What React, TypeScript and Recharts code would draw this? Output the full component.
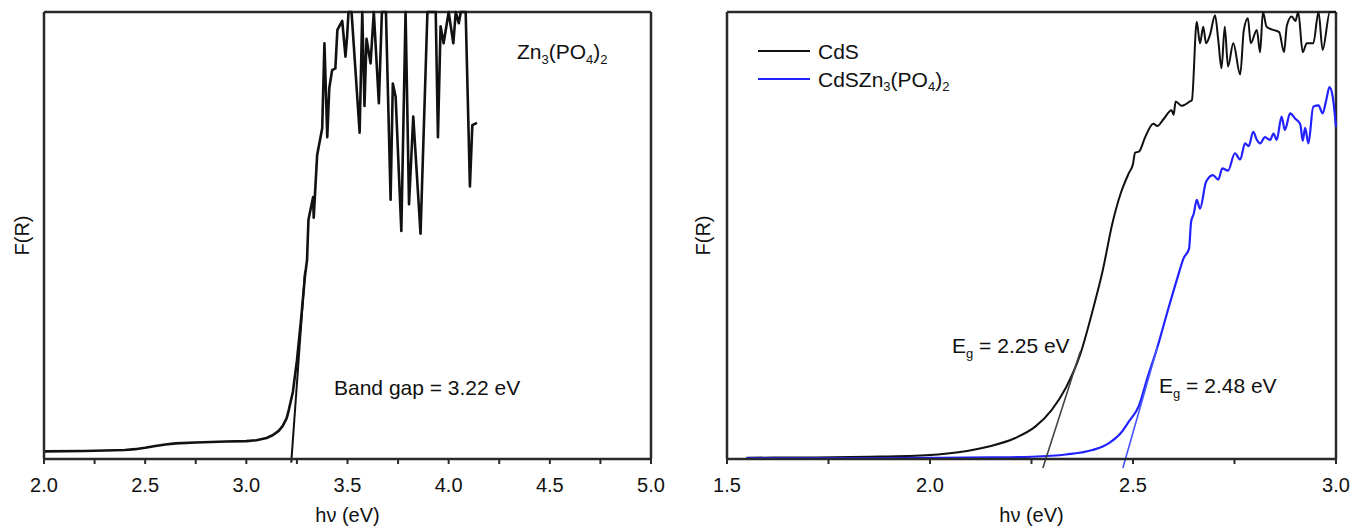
import React from 'react';
import { LineChart, Line, XAxis, YAxis, ReferenceLine } from 'recharts';

// Zn3(PO4)2 spectrum (left panel)
const znEnergy = [
  2.0, 2.2, 2.4, 2.45, 2.5, 2.55, 2.6, 2.65, 2.75, 2.9, 3.0, 3.05, 3.1, 3.13, 3.16, 3.18, 3.2, 3.21, 3.23,
  3.25, 3.27, 3.29,
  3.3, 3.307, 3.33, 3.333, 3.35, 3.375, 3.386, 3.4, 3.41, 3.424, 3.44, 3.45, 3.474, 3.49, 3.498, 3.505,
  3.52, 3.56, 3.573, 3.584, 3.594, 3.614, 3.63, 3.655, 3.67, 3.69, 3.713, 3.724, 3.738, 3.766, 3.787,
  3.804, 3.825, 3.861, 3.895, 3.936, 3.947, 3.96, 3.975, 4.0, 4.023, 4.035, 4.05, 4.06, 4.084, 4.105,
  4.117, 4.14,
];
const znFR = [
  1.7, 1.8, 2.0, 2.2, 2.5, 2.9, 3.25, 3.5, 3.7, 3.9, 4.0, 4.2, 4.7, 5.3, 6.3, 7.4, 9.2, 11, 15,
  22, 31, 41,
  44.5, 53.5, 58.6, 54, 68, 74, 93, 72, 83, 87, 87.4, 96, 98, 90, 94.5, 100,
  100, 73, 100, 79, 94, 88.5, 100, 79.6, 100, 100, 58, 84, 81, 51, 100,
  57, 76.6, 50.4, 100, 100, 72, 96.8, 93, 100, 93, 100, 97.5, 100, 100, 61,
  74.7, 75.2,
];
const znTangentE = [3.222, 3.29];
const znTangentF = [-0.8, 42];

// CdS and CdS/Zn3(PO4)2 spectra (right panel)
const cdsEnergy = [
  1.548, 1.7, 1.85, 2.0, 2.07, 2.145, 2.21, 2.26, 2.3, 2.335, 2.37, 2.4, 2.425, 2.45, 2.47, 2.49, 2.5,
  2.505, 2.515, 2.53, 2.55, 2.56, 2.575, 2.595, 2.6, 2.605, 2.62, 2.64, 2.645, 2.657, 2.665, 2.673,
  2.68, 2.69, 2.702, 2.71, 2.718, 2.726, 2.734, 2.747, 2.764, 2.773, 2.783, 2.79, 2.805, 2.813, 2.82,
  2.829, 2.845, 2.86, 2.872, 2.879, 2.891, 2.9, 2.907, 2.918, 2.928, 2.944, 2.957, 2.967, 2.985, 3.0,
];
const cdsFR = [
  0.3, 0.35, 0.5, 0.9, 1.5, 2.8, 4.7, 7.3, 11, 16, 23.4, 33, 42, 53, 59.5, 64, 66,
  68.5, 68.8, 72, 75, 74.5, 76, 78, 77, 80, 79, 80, 80.3, 97.8, 93, 96.7,
  93, 95, 99.3, 93.7, 87.4, 96.7, 87.8, 93, 86, 96, 98.6, 93, 96, 91, 100,
  96.7, 96, 95.5, 91, 97, 99, 98, 100, 91, 93, 93, 100, 91.5, 100, 100,
];
const compEnergy = [
  1.548, 1.8, 2.0, 2.15, 2.25, 2.335, 2.4, 2.44, 2.47, 2.49, 2.515, 2.535, 2.56, 2.585, 2.61, 2.625,
  2.638, 2.643, 2.65, 2.657, 2.665, 2.68, 2.697, 2.71, 2.72, 2.734, 2.751, 2.764, 2.776, 2.785, 2.796,
  2.805, 2.813, 2.825, 2.838, 2.846, 2.854, 2.866, 2.874, 2.887, 2.899, 2.912, 2.918, 2.924, 2.932,
  2.944, 2.957, 2.967, 2.976, 2.984, 2.992, 3.0,
];
const compFR = [
  0.2, 0.2, 0.25, 0.35, 0.5, 1.0, 2.0, 3.5, 5.8, 8.4, 12, 18, 25, 33, 40.7, 45,
  47, 53, 55, 58, 56, 62, 63.5, 62.5, 65, 64.5, 68.4, 67, 70.6, 70, 73.2,
  71.4, 70.6, 72, 71.4, 72.8, 71.4, 76.6, 73.6, 77.3, 76.2, 74.9, 71.2, 74.1, 70.6,
  78.8, 79.1, 77.3, 80.3, 83.2, 81, 74.3,
];
const cdsTangentE = [2.278, 2.37];
const cdsTangentF = [-2, 24];
const compTangentE = [2.475, 2.56];
const compTangentF = [-2, 25];

const leftTicks = [2, 2.25, 2.5, 2.75, 3, 3.25, 3.5, 3.75, 4, 4.25, 4.5, 4.75, 5];
const rightTicks = [1.5, 1.75, 2, 2.25, 2.5, 2.75, 3];

const legendItems = [
  { key: 'cds', label: 'CdS', color: '#111111' },
  { key: 'comp', label: 'CdSZn3(PO4)2', color: '#2222ff' },
];

const zip = (xs: number[], ys: number[]) => xs.map((x, i) => ({ x, y: ys[i] }));

const FONT = '"Liberation Sans", Arial, Helvetica, sans-serif';
const FRAME = '#2a2a2a';

const majorOnly = (v: number) =>
  Math.abs(v * 2 - Math.round(v * 2)) < 1e-6 ? v.toFixed(1) : '';

// renders chemical formulas with subscripts
const Formula = ({ text }: { text: string }) => {
  const parts = text.split(/(\d)/).filter((p) => p !== '');
  return (
    <>
      {parts.map((p, i) =>
        /\d/.test(p) ? (
          <span key={i} style={{ fontSize: '0.62em', position: 'relative', top: '0.35em' }}>
            {p}
          </span>
        ) : (
          <span key={i}>{p}</span>
        ),
      )}
    </>
  );
};

const YTitle = (props: any) => {
  const { viewBox, dx } = props;
  const cx = viewBox.x + dx;
  const cy = viewBox.y + viewBox.height / 2;
  return (
    <text
      x={cx}
      y={cy}
      transform={`rotate(-90 ${cx} ${cy})`}
      textAnchor="middle"
      dominantBaseline="central"
      fontSize={20}
      fontFamily={FONT}
      fill="#111"
    >
      F(R)
    </text>
  );
};

const tickStyle = { fontSize: 20, fill: '#111', fontFamily: FONT };
const xTitle = { value: 'hν (eV)', position: 'insideBottom', offset: 7, fontSize: 20, fill: '#111', fontFamily: FONT };

export default function App() {
  const znData = zip(znEnergy, znFR);
  const cdsData = zip(cdsEnergy, cdsFR);
  const compData = zip(compEnergy, compFR);
  const znTan = zip(znTangentE, znTangentF);
  const cdsTan = zip(cdsTangentE, cdsTangentF);
  const compTan = zip(compTangentE, compTangentF);

  const text: React.CSSProperties = {
    position: 'absolute',
    fontFamily: FONT,
    fontSize: 21,
    lineHeight: 1,
    color: '#111',
    whiteSpace: 'nowrap',
  };

  return (
    <div style={{ position: 'absolute', left: 0, top: 0, width: 1353, height: 529, background: '#fff' }}>
      {/* left panel */}
      <div style={{ position: 'absolute', left: 0, top: 0 }}>
        <LineChart width={680} height={529} margin={{ top: 12, right: 29, bottom: 0, left: 0 }}>
          <XAxis
            dataKey="x"
            type="number"
            domain={[2, 5]}
            ticks={leftTicks}
            tickFormatter={majorOnly}
            height={70}
            tickSize={5}
            tickMargin={14}
            tick={tickStyle}
            axisLine={{ stroke: FRAME, strokeWidth: 2.5 }}
            tickLine={{ stroke: FRAME, strokeWidth: 2 }}
            label={xTitle}
          />
          <YAxis
            type="number"
            domain={[0, 100]}
            width={44}
            tick={false}
            tickLine={false}
            axisLine={{ stroke: FRAME, strokeWidth: 2.5 }}
            label={<YTitle dx={22} />}
          />
          <ReferenceLine y={100} stroke={FRAME} strokeWidth={2.5} ifOverflow="visible" />
          <ReferenceLine x={5} stroke={FRAME} strokeWidth={2.5} ifOverflow="visible" />
          <Line data={znData} dataKey="y" type="linear" stroke="#111" strokeWidth={2.6} strokeLinejoin="round" dot={false} isAnimationActive={false} />
          <ReferenceLine segment={znTan} ifOverflow="visible" stroke="#111" strokeWidth={2} />
        </LineChart>
        <div style={{ ...text, left: 517, top: 41 }}>
          <Formula text="Zn3(PO4)2" />
        </div>
        <div style={{ ...text, left: 334, top: 377 }}>Band gap = 3.22 eV</div>
      </div>

      {/* right panel */}
      <div style={{ position: 'absolute', left: 680, top: 0 }}>
        <LineChart width={673} height={529} margin={{ top: 12, right: 17, bottom: 0, left: 0 }}>
          <XAxis
            dataKey="x"
            type="number"
            domain={[1.5, 3]}
            ticks={rightTicks}
            tickFormatter={majorOnly}
            height={70}
            tickSize={5}
            tickMargin={14}
            tick={tickStyle}
            axisLine={{ stroke: FRAME, strokeWidth: 2.5 }}
            tickLine={{ stroke: FRAME, strokeWidth: 2 }}
            label={xTitle}
          />
          <YAxis
            type="number"
            domain={[0, 100]}
            width={47}
            tick={false}
            tickLine={false}
            axisLine={{ stroke: FRAME, strokeWidth: 2.5 }}
            label={<YTitle dx={23} />}
          />
          <ReferenceLine y={100} stroke={FRAME} strokeWidth={2.5} ifOverflow="visible" />
          <ReferenceLine x={3} stroke={FRAME} strokeWidth={2.5} ifOverflow="visible" />
          <Line data={cdsData} dataKey="y" type="monotone" stroke={legendItems[0].color} strokeWidth={2} dot={false} isAnimationActive={false} />
          <Line data={compData} dataKey="y" type="monotone" stroke={legendItems[1].color} strokeWidth={2.2} dot={false} isAnimationActive={false} />
          <ReferenceLine segment={cdsTan} ifOverflow="visible" stroke="#444" strokeWidth={1.6} />
          <ReferenceLine segment={compTan} ifOverflow="visible" stroke="#4455ff" strokeWidth={1.6} />
        </LineChart>
        <div style={{ position: 'absolute', left: 78, top: 37 }}>
          {legendItems.map((it) => (
            <div key={it.key} style={{ display: 'flex', alignItems: 'center', height: 28 }}>
              <div style={{ width: 52, height: 2.5, background: it.color, marginRight: 8 }} />
              <span style={{ fontFamily: FONT, fontSize: 21, color: '#111', lineHeight: 1 }}>
                <Formula text={it.label} />
              </span>
            </div>
          ))}
        </div>
        <div style={{ ...text, left: 272, top: 335 }}>
          E<span style={{ fontSize: '0.62em', position: 'relative', top: '0.4em' }}>g</span> = 2.25 eV
        </div>
        <div style={{ ...text, left: 479, top: 375 }}>
          E<span style={{ fontSize: '0.62em', position: 'relative', top: '0.4em' }}>g</span> = 2.48 eV
        </div>
      </div>
    </div>
  );
}
